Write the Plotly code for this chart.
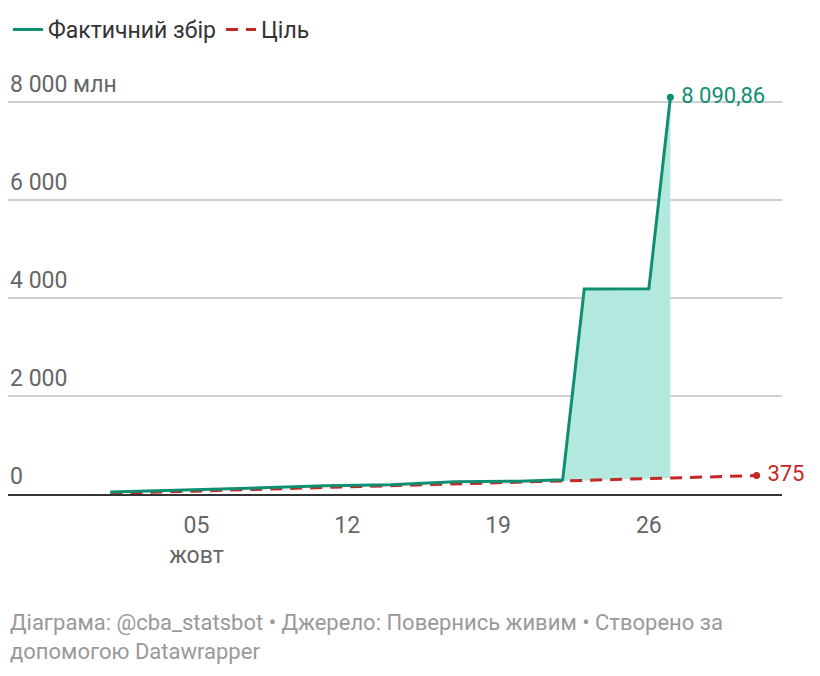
import plotly.graph_objects as go

actual_dates = ["2023-10-01", "2023-10-04", "2023-10-07", "2023-10-11", "2023-10-14",
                "2023-10-17", "2023-10-20", "2023-10-22", "2023-10-23", "2023-10-26", "2023-10-27"]
actual_vals = [40, 70, 110, 170, 190, 250, 260, 290, 4180, 4185, 8090.86]

target_dates = ["2023-10-01", "2023-10-04", "2023-10-07", "2023-10-11", "2023-10-14",
                "2023-10-17", "2023-10-20", "2023-10-22", "2023-10-23", "2023-10-26",
                "2023-10-27", "2023-10-31"]
target_vals = [12, 48, 85, 133, 170, 206, 242, 266, 278, 315, 327, 375]

# shaded gap section
gap_dates = actual_dates[7:]
gap_target = target_vals[7:11]
gap_actual = actual_vals[7:]

y_ticks = [0, 2000, 4000, 6000, 8000]
y_labels = ["0", "2 000", "4 000", "6 000", "8 000 млн"]
x_ticks = ["2023-10-05", "2023-10-12", "2023-10-19", "2023-10-26"]
x_labels = ["05<br>жовт", "12", "19", "26"]

teal = "#0e8f72"
red = "#c42824"
grey = "#666666"

fig = go.Figure()
fig.add_trace(go.Scatter(x=gap_dates, y=gap_target, mode="lines", line=dict(width=0),
                         showlegend=False, hoverinfo="skip"))
fig.add_trace(go.Scatter(x=gap_dates, y=gap_actual, mode="lines", line=dict(width=0),
                         fill="tonexty", fillcolor="#b3e8df", showlegend=False, hoverinfo="skip"))
fig.add_trace(go.Scatter(x=target_dates, y=target_vals, mode="lines", name="Ціль",
                         line=dict(color=red, width=3, dash="12px,8px")))
fig.add_trace(go.Scatter(x=actual_dates, y=actual_vals, mode="lines", name="Фактичний збір",
                         line=dict(color=teal, width=3)))
fig.add_trace(go.Scatter(x=[actual_dates[-1]], y=[actual_vals[-1]], mode="markers+text",
                         marker=dict(color=teal, size=7), text=[" 8 090,86"],
                         textposition="middle right", textfont=dict(color=teal, size=22),
                         showlegend=False, cliponaxis=False))
fig.add_trace(go.Scatter(x=[target_dates[-1]], y=[target_vals[-1]], mode="markers+text",
                         marker=dict(color=red, size=7), text=[" 375"],
                         textposition="middle right", textfont=dict(color=red, size=22),
                         showlegend=False, cliponaxis=False))

for v, lab in zip(y_ticks, y_labels):
    fig.add_annotation(x=0, xref="paper", y=v, yref="y", text=lab, showarrow=False,
                       xanchor="left", yanchor="bottom", yshift=2,
                       font=dict(size=23, color=grey))

fig.add_annotation(x=0, xref="paper", y=-0.28, yref="paper", yanchor="top", xanchor="left",
                   align="left", showarrow=False,
                   text="Діаграма: @cba_statsbot • Джерело: Повернись живим • Створено за<br>допомогою Datawrapper",
                   font=dict(size=22, color="#999999"))

fig.update_layout(
    width=820, height=676,
    margin=dict(l=0, r=46, t=59, b=190),
    plot_bgcolor="white", paper_bgcolor="white",
    font=dict(family="Roboto", size=23, color="#333333"),
    legend=dict(orientation="h", x=0, y=1.195, xanchor="left", yanchor="top",
                traceorder="reversed", font=dict(size=23, color="#333333")),
    xaxis=dict(range=["2023-09-26 06:00", "2023-11-01 04:20"], tickvals=x_ticks,
               ticktext=x_labels, showgrid=False, showline=True, linecolor="#333333",
               linewidth=1.5, ticks="", ticklabelstandoff=10,
               tickfont=dict(size=23, color=grey)),
    yaxis=dict(range=[0, 8300], tickvals=y_ticks, showticklabels=False,
               gridcolor="#d0d0d0", gridwidth=1.5, zeroline=False),
)

fig.write_html("out.html")
